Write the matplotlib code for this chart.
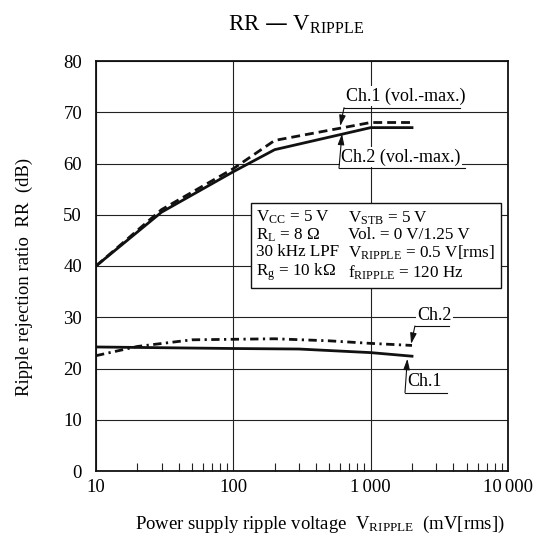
import numpy as np
import matplotlib
matplotlib.use("Agg")
import matplotlib.pyplot as plt
from matplotlib.ticker import FixedLocator, LogLocator, NullFormatter

plt.rcParams['font.family'] = ['Liberation Serif', 'DejaVu Serif']
plt.rcParams['mathtext.default'] = 'regular'
plt.rcParams['font.size'] = 13

# data (mV[rms], dB)
ch1_max_v = [10, 30, 100, 200, 1000, 2000]
ch1_max_rr = [40.0, 51.0, 59.0, 64.5, 68.0, 68.0]
ch2_max_v = [10, 30, 100, 200, 1000, 2000]
ch2_max_rr = [40.0, 50.5, 58.4, 62.7, 67.0, 67.0]
ch1_v = [10, 100, 300, 1000, 2000]
ch1_rr = [24.2, 23.9, 23.8, 23.1, 22.4]
ch2_v = [10, 20, 50, 200, 500, 1000, 2000]
ch2_rr = [22.5, 24.3, 25.6, 25.8, 25.4, 24.9, 24.5]

x_ticks = [10, 100, 1000, 10000]
x_tick_labels = ['10', '100', '1\u2006000', '10\u2006000']
y_ticks = [0, 10, 20, 30, 40, 50, 60, 70, 80]

fig = plt.figure(figsize=(5.38, 5.41), dpi=100)
ax = fig.add_axes([96 / 538, 1 - 471 / 541, 412 / 538, 410 / 541])

ax.set_xscale('log')
ax.set_xlim(10, 10000)
ax.set_ylim(0, 80)

ax.plot(ch1_max_v, ch1_max_rr, color='#111', lw=2, dashes=(3.2, 1.8), zorder=3)
ax.plot(ch2_max_v, ch2_max_rr, color='#111', lw=2, zorder=3)
ax.plot(ch1_v, ch1_rr, color='#111', lw=2, zorder=3)
ax.plot(ch2_v, ch2_rr, color='#111', lw=2, dashes=(3, 1.6, 0.8, 1.6), zorder=3)

ax.xaxis.set_major_locator(FixedLocator(x_ticks))
ax.set_xticklabels(x_tick_labels)
ax.xaxis.set_minor_locator(LogLocator(base=10, subs=range(2, 10)))
ax.xaxis.set_minor_formatter(NullFormatter())
ax.set_yticks(y_ticks)

ax.tick_params(axis='x', which='major', length=0, pad=6, labelsize=13.5)
ax.tick_params(axis='x', which='minor', direction='in', length=6, width=0.8,
               color='#222')
ax.tick_params(axis='y', length=0, pad=10, labelsize=13.5)

ax.grid(True, which='major', color='#222', lw=0.8)
for s in ax.spines.values():
    s.set_linewidth(1.3)
    s.set_color('#111')


def callout(text, tip, elbow, end, text_y):
    ax.annotate('', xy=tip, xytext=elbow,
                arrowprops=dict(arrowstyle='-|>,head_length=0.5,head_width=0.15',
                                color='#111', lw=0.8, shrinkA=0, shrinkB=0),
                zorder=5)
    ax.plot([elbow[0], end[0]], [elbow[1], end[1]], color='#111', lw=0.8,
            zorder=5)
    ax.text(elbow[0] * 1.04, text_y, text, ha='left', va='center', fontsize=13,
            bbox=dict(facecolor='white', edgecolor='none', pad=1), zorder=4)


callout('Ch.1 (vol.-max.)', (600, 67.3), (640, 70.9), (4470, 70.9), 73.2)
callout('Ch.2 (vol.-max.)', (618, 65.8), (588, 59.1), (4900, 59.1), 61.2)
callout('Ch.2', (1970, 24.8), (2100, 28.3), (3700, 28.3), 30.3)
callout('Ch.1', (1850, 21.9), (1778, 15.3), (3600, 15.3), 17.4)

box_text = ('$V_{CC}$ = 5 V\n$R_{L}$ = 8 \u03a9\n30 kHz LPF\n$R_{g}$ = 10 k\u03a9',
            '$V_{STB}$ = 5 V\nVol. = 0 V/1.25 V\n$V_{RIPPLE}$ = 0.5 V[rms]\n'
            '$f_{RIPPLE}$ = 120 Hz')
bx0, bx1 = (251 - 96) / 412, (501 - 96) / 412
by0, by1 = (471 - 288) / 410, (471 - 203) / 410
ax.add_patch(plt.Rectangle((bx0, by0), bx1 - bx0, by1 - by0,
                           transform=ax.transAxes, facecolor='white',
                           edgecolor='#111', lw=1, zorder=4))
ax.text((256 - 96) / 412, (by0 + by1) / 2, box_text[0], transform=ax.transAxes,
        ha='left', va='center', fontsize=12.3, linespacing=1.05, zorder=5)
ax.text((348 - 96) / 412, (by0 + by1) / 2, box_text[1], transform=ax.transAxes,
        ha='left', va='center', fontsize=12.3, linespacing=1.05, zorder=5)

fig.text(0.55, 1 - 25 / 541, 'RR \u2014 $V_{RIPPLE}$', ha='center',
         va='center', fontsize=16.5)
fig.text(0.046, 1 - 277 / 541, 'Ripple rejection ratio  RR  (dB)',
         rotation=90, ha='center', va='center', fontsize=13.5)
fig.text(320 / 538, 1 - 524 / 541,
         'Power supply ripple voltage  $V_{RIPPLE}$  (mV[rms])',
         ha='center', va='center', fontsize=13.5)

fig.savefig('out.png', dpi=100)
